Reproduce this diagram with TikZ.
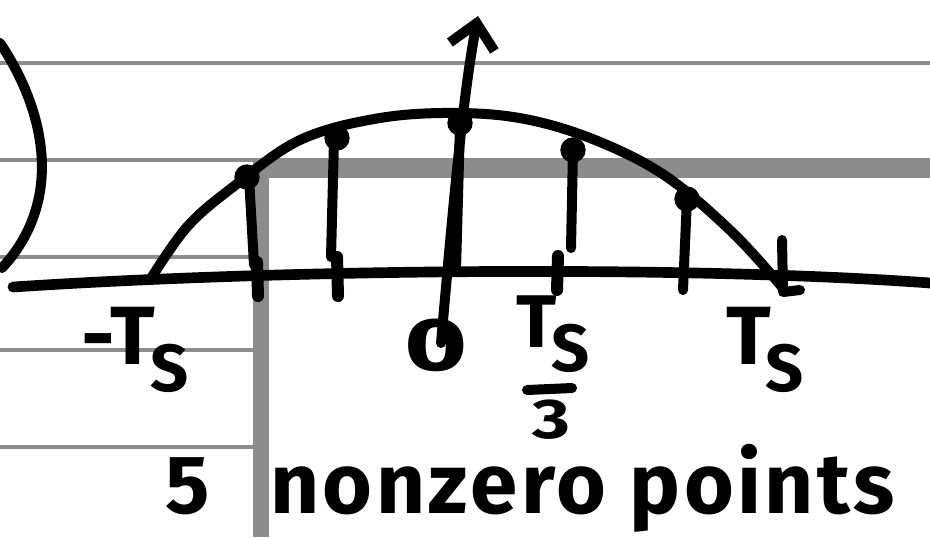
\documentclass[tikz,border=0pt]{standalone}
\usepackage{fontspec}
\setmainfont{Fira Sans}
\usetikzlibrary{arrows.meta}
\colorlet{ruling}{black!45}
\providecommand{\Ts}{T\kern-0.06em\raisebox{-0.32em}{\fontsize{50}{50}\selectfont S}}

\begin{document}
\begin{tikzpicture}[x=0.75pt,y=-0.75pt,line cap=round,line join=round,
  ink/.style={line width=7.5pt},
  tick/.style={line width=9pt},
  hand/.style={font=\fontsize{62}{62}\selectfont\bfseries,inner sep=0pt}]
  \useasboundingbox (0,0) rectangle (930,537);
  % ---------------- ruled paper under the sketch
  \draw[ruling,line width=3pt] (0,63) -- (930,63);
  \foreach \yy in {160,257,350,447}
    \draw[ruling,line width=3pt] (0,\yy) -- (253,\yy);
  \fill[ruling] (253,158) rectangle (930,178);
  \fill[ruling] (253,158) rectangle (269,537);
  % ---------------- bracket left from the sketch before
  \draw[ink] (0,43) .. controls (45,110) and (65,200) .. (2,268);
  % ---------------- time axis and the pulse over it
  \draw[ink,line width=8pt] (13,287) .. controls (300,268) and (700,266) .. (930,283);
  \draw[ink] plot[smooth,tension=0.6] coordinates
    {(150,280) (187,227) (233,187) (300,140) (380,118) (460,113) (530,120)
     (600,142) (667,177) (733,233) (782,287)};
  \draw[ink] (782,240) -- (783,292) -- (800,290);
  % ---------------- samples: stem, dot on the pulse, tick on the axis
  \draw[ink] (249,177) -- (254,265);
  \draw[tick] (257,262) -- (258,296);
  \draw[ink] (334,140) -- (331,257);
  \draw[tick] (337,257) -- (338,296);
  \draw[ink] (460,125) -- (456,270);
  \draw[ink] (573,150) -- (571,248);
  \draw[tick] (558,256) -- (557,290);
  \draw[ink] (687,198) -- (683,290);
  \foreach \px/\py in {247/177,337/138,460/123,573/150,687/199}
    \fill (\px,\py) circle (9.5pt);
  % ---------------- vertical axis through 0
  \draw[ink,-{Straight Barb[length=18pt,width=34pt]}] (441,343) .. controls (452,220) and (462,100) .. (478,16);
  % ---------------- labels
  \node[hand] (minusTs) at (135,350) {-\Ts};
  \node[hand,font=\fontsize{56}{56}\selectfont\bfseries] (zero) at (436,345) {\scalebox{1.45}[1]{0}};
  \node[hand,font=\fontsize{56}{56}\selectfont\bfseries] (thirdTs) at (553,334) {\Ts};
  \draw[ink] (527,390) -- (572,388);
  \node[hand,font=\fontsize{42}{42}\selectfont\bfseries] (three) at (551,420) {\scalebox{1.3}[1]{3}};
  \node[hand] (plusTs) at (765,350) {\Ts};
  \node[hand,anchor=base west] (count) at (165,513) {5};
  \node[hand,anchor=base west,font=\fontsize{64}{64}\selectfont\bfseries\addfontfeature{LetterSpace=4}] (nonzero) at (270,513) {nonzero points};
\end{tikzpicture}
\end{document}
